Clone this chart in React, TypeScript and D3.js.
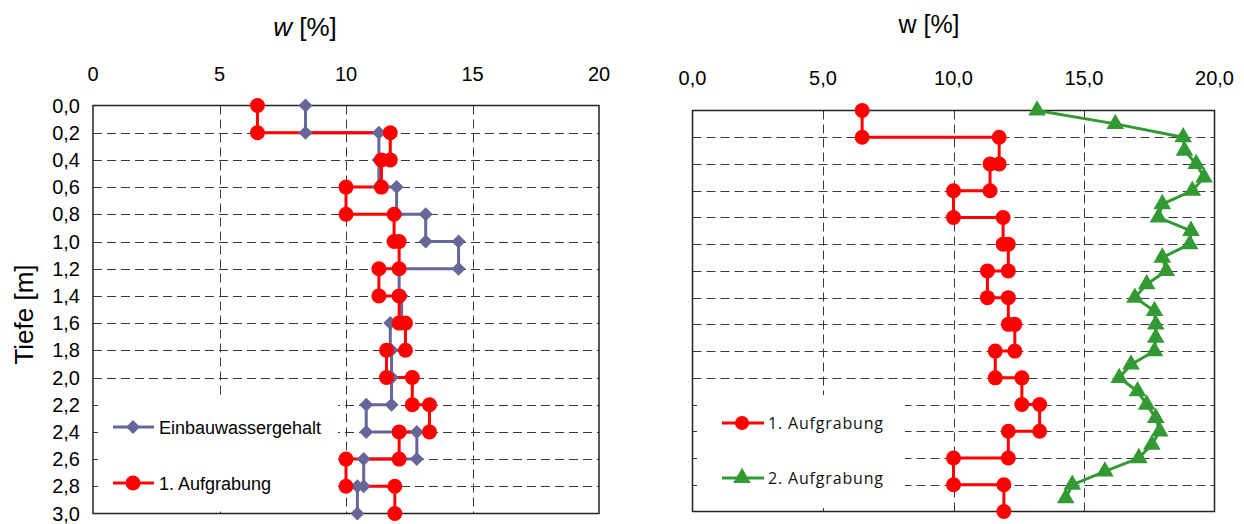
import * as d3 from "d3"

// layer boundaries (m) for the step profiles
const layerDepths = [0, 0.2, 0.4, 0.6, 0.8, 1.0, 1.2, 1.4, 1.6, 1.8, 2.0, 2.2, 2.4, 2.6, 2.8, 3.0]
// water content per layer [%]
const einbauwassergehalt = [8.4, 11.3, 11.3, 12.0, 13.15, 14.45, 12.1, 12.2, 11.75, 11.8, 11.8, 10.8, 12.8, 10.7, 10.45]
const aufgrabung1 = [6.5, 11.75, 11.4, 10.0, 11.9, 12.1, 11.3, 12.1, 12.35, 11.6, 12.62, 13.3, 12.1, 10.0, 11.93]

// 2. Aufgrabung, measured every 0.1 m
const depths2 = [0, 0.1, 0.2, 0.3, 0.4, 0.5, 0.6, 0.7, 0.8, 0.9, 1.0, 1.1, 1.2, 1.3, 1.4, 1.5, 1.6, 1.7, 1.8, 1.9, 2.0, 2.1, 2.2, 2.3, 2.4, 2.5, 2.6, 2.7, 2.8, 2.9]
const aufgrabung2 = [13.2, 16.2, 18.8, 18.85, 19.3, 19.6, 19.15, 18.0, 17.85, 19.1, 19.05, 18.0, 18.15, 17.4, 16.95, 17.7, 17.75, 17.75, 17.7, 16.8, 16.35, 17.05, 17.4, 17.75, 17.9, 17.6, 17.1, 15.8, 14.55, 14.3]

const depthTicks = [0, 0.2, 0.4, 0.6, 0.8, 1.0, 1.2, 1.4, 1.6, 1.8, 2.0, 2.2, 2.4, 2.6, 2.8, 3.0]
const leftXTicks = [0, 5, 10, 15, 20]
const rightXTicks = [0, 5, 10, 15, 20]

type Pt = [number, number] // [w, depth]

// turn layer values into a step profile (top and bottom of every layer)
function stepPoints(values: number[]): Pt[] {
  const pts: Pt[] = []
  values.forEach((v, i) => {
    pts.push([v, layerDepths[i]])
    pts.push([v, layerDepths[i + 1]])
  })
  return pts
}

const FONT = "'Liberation Sans', Arial, sans-serif"
const BLUE = "#666699"
const RED = "#ff0000"
const GREEN = "#339933"
const GRID = "#3a3a3a"

const diamond = "M0,-7L7,0L0,7L-7,0Z"
const triangle = d3.symbol().type(d3.symbolTriangle).size(135)()

function Panel(props: {
  x0: number
  x1: number
  y0: number
  y1: number
  xLabels: string[]
  labelY: number
  legendBox: [number, number, number, number]
  children?: any
  xTicks: number[]
}) {
  const { x0, x1, y0, y1, xLabels, labelY, legendBox, xTicks } = props
  const x = d3.scaleLinear().domain([0, 20]).range([x0, x1])
  const y = d3.scaleLinear().domain([0, 3]).range([y0, y1])
  return (
    <g>
      {/* grid */}
      {depthTicks.slice(1, -1).map((d) => (
        <line key={"h" + d} x1={x0} x2={x1} y1={Math.round(y(d)) + 0.5} y2={Math.round(y(d)) + 0.5}
          stroke={GRID} strokeDasharray="9,5" />
      ))}
      {xTicks.slice(1, -1).map((t) => (
        <line key={"v" + t} x1={Math.round(x(t)) + 0.5} x2={Math.round(x(t)) + 0.5} y1={y0} y2={y1}
          stroke={GRID} strokeDasharray="9,5" />
      ))}
      {/* legend background hides the grid */}
      <rect x={legendBox[0]} y={legendBox[1]} width={legendBox[2]} height={legendBox[3]} fill="#fff" />
      {/* frame */}
      <rect x={x0} y={y0} width={x1 - x0} height={y1 - y0} fill="none" stroke="#222" strokeWidth={1.5} />
      {/* x tick labels */}
      {xTicks.map((t, i) => (
        <text key={"xl" + t} x={x(t)} y={labelY} textAnchor="middle" fontFamily={FONT} fontSize={20} fill="#000">
          {xLabels[i]}
        </text>
      ))}
      {props.children}
    </g>
  )
}

function Series(props: { pts: Pt[]; x: any; y: any; color: string; marker: "circle" | "diamond" | "triangle"; part: "line" | "marks" }) {
  const { pts, x, y, color, marker, part } = props
  if (part === "line") {
    const line = d3.line<Pt>().x((p) => x(p[0])).y((p) => y(p[1]))
    return <path d={line(pts) || ""} fill="none" stroke={color} strokeWidth={3} strokeLinejoin="round" />
  }
  return (
    <g fill={color}>
      {pts.map((p, i) =>
        marker === "circle" ? (
          <circle key={i} cx={x(p[0])} cy={y(p[1])} r={7.5} />
        ) : (
          <path key={i} d={marker === "diamond" ? diamond : triangle || ""} transform={`translate(${x(p[0])},${y(p[1])})`} />
        )
      )}
    </g>
  )
}

export default function App() {
  // left panel
  const L = { x0: 93, x1: 599, y0: 105.5, y1: 513.5 }
  const xL = d3.scaleLinear().domain([0, 20]).range([L.x0, L.x1])
  const yL = d3.scaleLinear().domain([0, 3]).range([L.y0, L.y1])
  // right panel
  const R = { x0: 692.5, x1: 1214.5, y0: 110.5, y1: 511.5 }
  const xR = d3.scaleLinear().domain([0, 20]).range([R.x0, R.x1])
  const yR = d3.scaleLinear().domain([0, 3]).range([R.y0, R.y1])

  const blue = stepPoints(einbauwassergehalt)
  const red = stepPoints(aufgrabung1)
  const green: Pt[] = aufgrabung2.map((v, i) => [v, depths2[i]])

  return (
    <svg width={1244} height={524} style={{ position: "absolute", left: 0, top: 0, background: "#fff" }}>
      {/* ---------- left chart ---------- */}
      <text x={305} y={36} textAnchor="middle" fontFamily={FONT} fontSize={26}>
        <tspan fontStyle="italic">w</tspan>  [%]
      </text>
      <text transform={`translate(33,${(L.y0 + L.y1) / 2 + 5}) rotate(-90)`} textAnchor="middle" fontFamily={FONT} fontSize={26}>
        Tiefe [m]
      </text>
      {depthTicks.map((d) => (
        <text key={"yl" + d} x={80} y={yL(d) + 7} textAnchor="end" fontFamily={FONT} fontSize={20}>
          {d.toFixed(1).replace(".", ",")}
        </text>
      ))}
      <Panel x0={L.x0} x1={L.x1} y0={L.y0} y1={L.y1} xTicks={leftXTicks}
        xLabels={leftXTicks.map((t) => String(t))} labelY={81} legendBox={[98, 398, 240, 113]}>
        <Series pts={blue} x={xL} y={yL} color={BLUE} marker="diamond" part="line" />
        <Series pts={red} x={xL} y={yL} color={RED} marker="circle" part="line" />
        <Series pts={blue} x={xL} y={yL} color={BLUE} marker="diamond" part="marks" />
        <Series pts={red} x={xL} y={yL} color={RED} marker="circle" part="marks" />
        {/* legend */}
        <line x1={113} x2={154} y1={427} y2={427} stroke={BLUE} strokeWidth={3} />
        <path d={diamond} transform="translate(133,427)" fill={BLUE} />
        <text x={159} y={433.5} fontFamily={FONT} fontSize={18}>Einbauwassergehalt</text>
        <line x1={113} x2={154} y1={483} y2={483} stroke={RED} strokeWidth={3} />
        <circle cx={133} cy={483} r={7.5} fill={RED} />
        <text x={159} y={489.5} fontFamily={FONT} fontSize={18}>1. Aufgrabung</text>
      </Panel>

      {/* ---------- right chart ---------- */}
      <text x={929} y={33} textAnchor="middle" fontFamily={FONT} fontSize={25}>w [%]</text>
      <Panel x0={R.x0} x1={R.x1} y0={R.y0} y1={R.y1} xTicks={rightXTicks}
        xLabels={rightXTicks.map((t) => t.toFixed(1).replace(".", ","))} labelY={85} legendBox={[697, 395, 208, 113]}>
        <Series pts={red} x={xR} y={yR} color={RED} marker="circle" part="line" />
        <Series pts={green} x={xR} y={yR} color={GREEN} marker="triangle" part="line" />
        <Series pts={red} x={xR} y={yR} color={RED} marker="circle" part="marks" />
        <Series pts={green} x={xR} y={yR} color={GREEN} marker="triangle" part="marks" />
        {/* legend */}
        <line x1={722} x2={764} y1={423} y2={423} stroke={RED} strokeWidth={3} />
        <circle cx={742} cy={423} r={7} fill={RED} />
        <text x={768} y={429} fontFamily="'Open Sans', sans-serif" fontSize={16} textLength={115} lengthAdjust="spacing" fill="#111">
          1. Aufgrabung
        </text>
        <line x1={722} x2={764} y1={478} y2={478} stroke={GREEN} strokeWidth={3} />
        <path d={triangle || ""} transform="translate(742,478)" fill={GREEN} />
        <text x={768} y={484} fontFamily="'Open Sans', sans-serif" fontSize={16} textLength={115} lengthAdjust="spacing" fill="#111">
          2. Aufgrabung
        </text>
      </Panel>
    </svg>
  )
}
